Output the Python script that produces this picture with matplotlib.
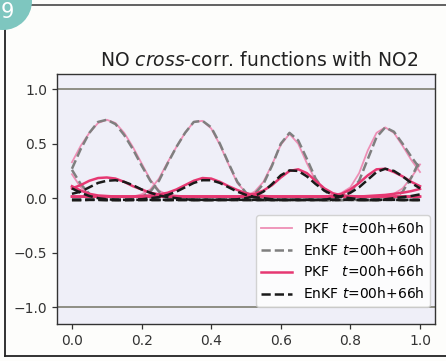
import numpy as np
import matplotlib
matplotlib.use("Agg")
import matplotlib.pyplot as plt
from matplotlib.patches import Ellipse
from matplotlib.lines import Line2D

# ---- data ----
x = np.arange(41) * 0.025  # sample positions 0.0 .. 1.0

pkf60_A = [0.33, 0.48, 0.60, 0.69, 0.72, 0.69, 0.60, 0.47, 0.32, 0.17,
           0.07, 0.03, 0.015, 0.01, 0.01, 0.01, 0.01, 0.01, 0.01, 0.01,
           0.01, 0.01, 0.01, 0.01, 0.01, 0.01, 0.01, 0.01, 0.01, 0.01,
           0.01, 0.01, 0.01, 0.01, 0.01, 0.015, 0.02, 0.04, 0.09, 0.19,
           0.31]
pkf60_B = [0.01, 0.01, 0.01, 0.01, 0.01, 0.01, 0.01, 0.015, 0.035, 0.08,
           0.18, 0.33, 0.47, 0.60, 0.70, 0.71, 0.64, 0.49, 0.31, 0.14,
           0.05, 0.02, 0.01, 0.01, 0.01, 0.01, 0.01, 0.01, 0.01, 0.01,
           0.01, 0.01, 0.01, 0.01, 0.01, 0.01, 0.01, 0.01, 0.01, 0.01,
           0.01]
pkf60_C = [0.01, 0.01, 0.01, 0.01, 0.01, 0.01, 0.01, 0.01, 0.01, 0.01,
           0.01, 0.01, 0.01, 0.01, 0.01, 0.01, 0.01, 0.01, 0.01, 0.01,
           0.02, 0.06, 0.15, 0.31, 0.49, 0.59, 0.50, 0.32, 0.16, 0.07,
           0.025, 0.01, 0.01, 0.01, 0.01, 0.01, 0.01, 0.01, 0.01, 0.01,
           0.01]
pkf60_D = [0.22, 0.10, 0.04, 0.015, 0.01, 0.01, 0.01, 0.01, 0.01, 0.01,
           0.01, 0.01, 0.01, 0.01, 0.01, 0.01, 0.01, 0.01, 0.01, 0.01,
           0.01, 0.01, 0.01, 0.01, 0.01, 0.01, 0.01, 0.01, 0.01, 0.01,
           0.02, 0.05, 0.10, 0.23, 0.44, 0.60, 0.65, 0.60, 0.48, 0.35,
           0.24]

enkf60_A = [0.27, 0.45, 0.60, 0.70, 0.72, 0.68, 0.58, 0.45, 0.30, 0.16,
            0.06, 0.01, -0.01, -0.015, -0.02, -0.02, -0.02, -0.015, -0.015, -0.02,
            -0.02, -0.02, -0.015, -0.015, -0.02, -0.02, -0.02, -0.015, -0.015, -0.02,
            -0.02, -0.02, -0.015, -0.015, -0.02, -0.02, -0.01, 0.00, 0.06, 0.19,
            0.35]
enkf60_B = [-0.02, -0.02, -0.015, -0.015, -0.02, -0.02, -0.02, -0.01, 0.01, 0.06,
            0.16, 0.32, 0.47, 0.60, 0.70, 0.71, 0.65, 0.50, 0.32, 0.15,
            0.05, 0.00, -0.015, -0.02, -0.02, -0.02, -0.015, -0.015, -0.02, -0.02,
            -0.02, -0.015, -0.015, -0.02, -0.02, -0.02, -0.015, -0.015, -0.02, -0.02,
            -0.02]
enkf60_C = [-0.02, -0.02, -0.015, -0.015, -0.02, -0.02, -0.02, -0.015, -0.015, -0.02,
            -0.02, -0.02, -0.015, -0.015, -0.02, -0.02, -0.02, -0.015, -0.015, -0.01,
            0.00, 0.04, 0.13, 0.30, 0.50, 0.60, 0.53, 0.36, 0.18, 0.07,
            0.01, -0.01, -0.015, -0.02, -0.02, -0.02, -0.015, -0.015, -0.02, -0.02,
            -0.02]
enkf60_D = [0.26, 0.13, 0.04, 0.00, -0.01, -0.015, -0.02, -0.02, -0.02, -0.015,
            -0.015, -0.02, -0.02, -0.02, -0.015, -0.015, -0.02, -0.02, -0.02, -0.015,
            -0.015, -0.02, -0.02, -0.02, -0.015, -0.015, -0.02, -0.02, -0.02, -0.01,
            0.00, 0.02, 0.06, 0.16, 0.36, 0.56, 0.65, 0.61, 0.50, 0.38,
            0.27]

pkf66_A = [0.09, 0.12, 0.16, 0.185, 0.19, 0.18, 0.15, 0.11, 0.08, 0.05,
           0.035, 0.025, 0.02, 0.015, 0.015, 0.015, 0.015, 0.015, 0.015, 0.015,
           0.015, 0.015, 0.015, 0.015, 0.015, 0.015, 0.015, 0.015, 0.015, 0.015,
           0.015, 0.015, 0.015, 0.015, 0.02, 0.025, 0.03, 0.04, 0.05, 0.065,
           0.085]
pkf66_B = [0.015, 0.015, 0.015, 0.015, 0.015, 0.015, 0.015, 0.015, 0.02, 0.025,
           0.035, 0.05, 0.08, 0.12, 0.16, 0.185, 0.18, 0.15, 0.11, 0.075,
           0.045, 0.03, 0.02, 0.015, 0.015, 0.015, 0.015, 0.015, 0.015, 0.015,
           0.015, 0.015, 0.015, 0.015, 0.015, 0.015, 0.015, 0.015, 0.015, 0.015,
           0.015]
pkf66_C = [0.015, 0.015, 0.015, 0.015, 0.015, 0.015, 0.015, 0.015, 0.015, 0.015,
           0.015, 0.015, 0.015, 0.015, 0.015, 0.015, 0.015, 0.015, 0.015, 0.015,
           0.025, 0.04, 0.07, 0.12, 0.19, 0.25, 0.265, 0.23, 0.16, 0.09,
           0.045, 0.025, 0.02, 0.015, 0.015, 0.015, 0.015, 0.015, 0.015, 0.015,
           0.015]
pkf66_D = [0.11, 0.07, 0.04, 0.025, 0.02, 0.015, 0.015, 0.015, 0.015, 0.015,
           0.015, 0.015, 0.015, 0.015, 0.015, 0.015, 0.015, 0.015, 0.015, 0.015,
           0.015, 0.015, 0.015, 0.015, 0.015, 0.015, 0.015, 0.015, 0.015, 0.015,
           0.02, 0.04, 0.08, 0.14, 0.21, 0.265, 0.27, 0.24, 0.20, 0.15,
           0.11]

enkf66_A = [0.04, 0.06, 0.10, 0.14, 0.16, 0.165, 0.15, 0.12, 0.08, 0.05,
            0.025, 0.01, 0.00, -0.01, -0.015, -0.015, -0.015, -0.015, -0.015, -0.015,
            -0.015, -0.015, -0.015, -0.015, -0.015, -0.015, -0.015, -0.015, -0.015, -0.015,
            -0.015, -0.015, -0.015, -0.015, -0.015, -0.015, -0.01, 0.00, 0.01, 0.02,
            0.035]
enkf66_B = [-0.015, -0.015, -0.015, -0.015, -0.015, -0.015, -0.015, -0.015, -0.01, 0.00,
            0.01, 0.03, 0.06, 0.10, 0.14, 0.165, 0.165, 0.14, 0.10, 0.06,
            0.03, 0.01, 0.00, -0.01, -0.015, -0.015, -0.015, -0.015, -0.015, -0.015,
            -0.015, -0.015, -0.015, -0.015, -0.015, -0.015, -0.015, -0.015, -0.015, -0.015,
            -0.015]
enkf66_C = [-0.015, -0.015, -0.015, -0.015, -0.015, -0.015, -0.015, -0.015, -0.015, -0.015,
            -0.015, -0.015, -0.015, -0.015, -0.015, -0.015, -0.015, -0.015, -0.015, -0.01,
            0.00, 0.02, 0.06, 0.13, 0.21, 0.255, 0.25, 0.20, 0.13, 0.07,
            0.03, 0.01, 0.00, -0.01, -0.015, -0.015, -0.015, -0.015, -0.015, -0.015,
            -0.015]
enkf66_D = [0.09, 0.05, 0.02, 0.00, -0.01, -0.015, -0.015, -0.015, -0.015, -0.015,
            -0.015, -0.015, -0.015, -0.015, -0.015, -0.015, -0.015, -0.015, -0.015, -0.015,
            -0.015, -0.015, -0.015, -0.015, -0.015, -0.015, -0.015, -0.015, -0.015, -0.015,
            0.00, 0.02, 0.05, 0.10, 0.17, 0.24, 0.27, 0.25, 0.20, 0.14,
            0.09]

labels = ["PKF   $t$=00h+60h", "EnKF $t$=00h+60h",
          "PKF   $t$=00h+66h", "EnKF $t$=00h+66h"]
title = "NO $\\it{cross}$-corr. functions with NO2"
xticks = [0.0, 0.2, 0.4, 0.6, 0.8, 1.0]
yticks = [-1.0, -0.5, 0.0, 0.5, 1.0]

series = [
    ([pkf60_A, pkf60_B, pkf60_C, pkf60_D], dict(color="#ee8fb6", lw=1.3, ls="-")),
    ([enkf60_A, enkf60_B, enkf60_C, enkf60_D], dict(color="#7f7f7f", lw=1.8, ls="--")),
    ([pkf66_A, pkf66_B, pkf66_C, pkf66_D], dict(color="#e63872", lw=1.8, ls="-")),
    ([enkf66_A, enkf66_B, enkf66_C, enkf66_D], dict(color="#1a1a1a", lw=1.8, ls="--")),
]

# ---- figure ----
fig = plt.figure(figsize=(4.46, 3.61), dpi=100, facecolor="#fdfdfb")
ax = fig.add_axes([57/446, 1-324/361, (435-57)/446, (324-74)/361])
ax.set_facecolor("#efeff8")

ax.axhline(1.0, color="#8e8e84", lw=1.4, zorder=1)
ax.axhline(-1.0, color="#8e8e84", lw=1.4, zorder=1)

for (curves, style), lab in zip(series, labels):
    for k, c in enumerate(curves):
        ax.plot(x, c, label=lab if k == 0 else None, zorder=2, **style)

ax.set_xlim(-0.043, 1.043)
ax.set_ylim(-1.155, 1.14)
ax.set_xticks(xticks)
ax.set_yticks(yticks)
ax.tick_params(labelsize=10, colors="#333333", length=3.5, width=0.9)
for s in ax.spines.values():
    s.set_color("#333333")
    s.set_linewidth(1.0)

ax.set_title(title, fontsize=13.5, color="#222222", pad=6, x=(259-57)/378)

leg = ax.legend(loc="lower right", fontsize=10, framealpha=0.85,
                bbox_to_anchor=((430-57)/378, (324-307)/250),
                borderaxespad=0.0, handlelength=2.2)
leg.get_frame().set_edgecolor("#cccccc")

# page decorations: teal badge and frame lines
fig.add_artist(Ellipse((3/446, 1-1/361), 58/446, 58/361,
                       transform=fig.transFigure, facecolor="#7ec6bf",
                       edgecolor="none", zorder=5))
fig.text(1/446, 1-2/361, "9", fontsize=15, color="white", ha="left", va="top",
         transform=fig.transFigure, zorder=6)
fig.add_artist(Line2D([30/446, 1], [1-5/361, 1-5/361], transform=fig.transFigure,
                      color="#555555", lw=1.3))
fig.add_artist(Line2D([5/446, 5/446], [1-30/361, 5/361], transform=fig.transFigure,
                      color="#222222", lw=1.3))
fig.add_artist(Line2D([5/446, 1], [5/361, 5/361], transform=fig.transFigure,
                      color="#222222", lw=1.3))

fig.savefig("out.png", dpi=100, facecolor=fig.get_facecolor())
